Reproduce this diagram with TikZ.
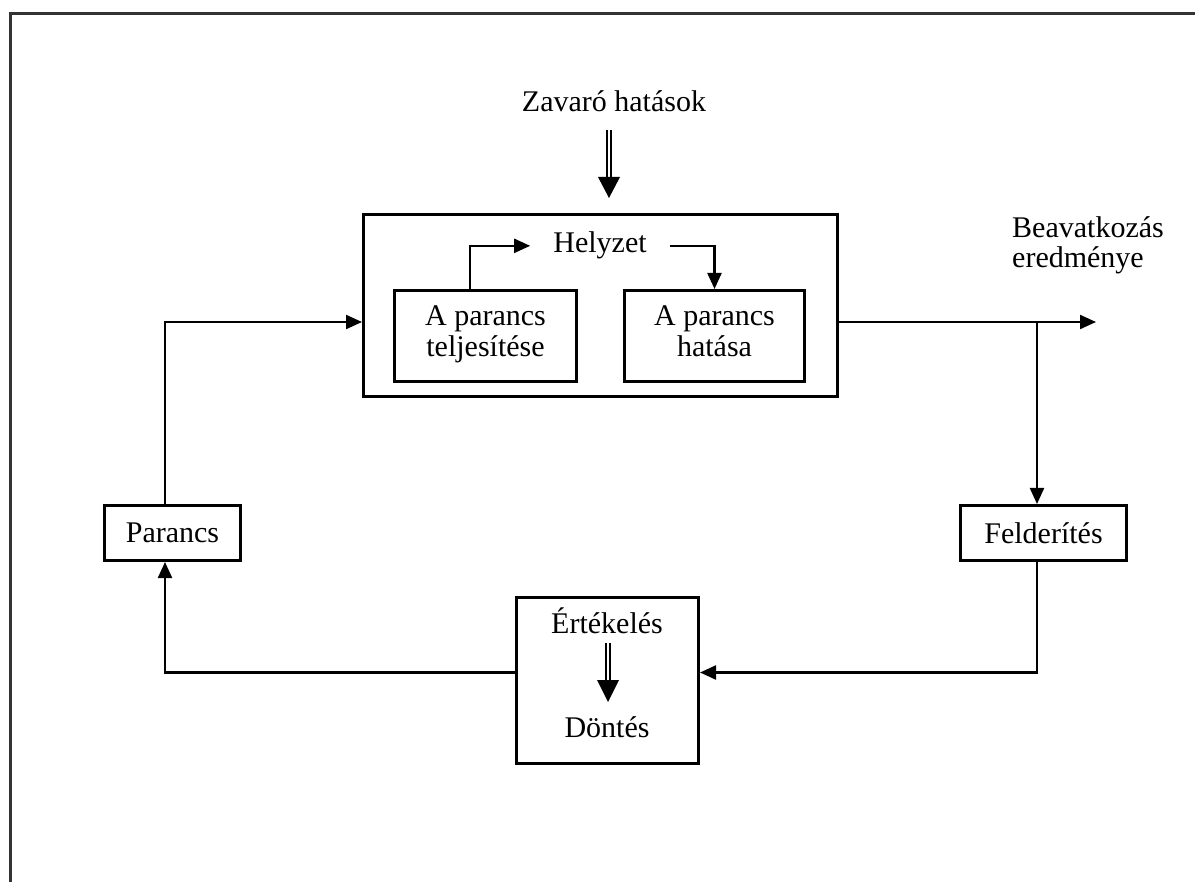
\documentclass[tikz,border=0pt]{standalone}
\usepackage{fontspec}
\setmainfont{Liberation Serif}
\usetikzlibrary{arrows.meta}
\begin{document}
\begin{tikzpicture}[x=1pt,y=-1pt,
  every node/.style={font=\fontsize{30}{31}\selectfont},
  box/.style={draw, line width=3pt, inner sep=0pt, align=center},
  lbl/.style={inner sep=0pt, align=center},
  arr/.style={line width=2.2pt, -{Triangle[length=16pt,width=14pt]}},
  dbl/.style={line width=1.6pt, double, double distance=2.5pt},
  frame/.style={line width=3pt, black!80}]
\useasboundingbox (0,0) rectangle (1195,882);
\draw[frame] (10,882) -- (10,14) -- (1195,14);

% nodes
\node[lbl, anchor=base] (zavar) at (614,112) {Zavaró hatások};
\node[box, minimum width=474pt, minimum height=182pt] (helyzet) at (600.5,305.5) {};
\node[lbl, anchor=base, inner xsep=23pt] (helyzetT) at (600,253) {Helyzet};
\node[box, minimum width=182pt, minimum height=91pt] (teljes) at (485.5,336) {A parancs\\teljesítése\strut};
\node[box, minimum width=180pt, minimum height=91pt] (hatasa) at (714.5,336) {A parancs\\hatása\strut};
\node[box, minimum width=136pt, minimum height=55pt] (parancs) at (172.5,533) {Parancs};
\node[box, minimum width=166pt, minimum height=55pt] (felder) at (1043.5,533) {Felderítés};
\node[box, minimum width=182pt, minimum height=166pt] (ertek) at (607.5,680.5) {};
\node[lbl, anchor=base] (ertekT) at (607,633) {Értékelés};
\node[lbl, anchor=base] (dontes) at (607,737) {Döntés};
\node[lbl, anchor=north west, align=left] (beav) at (1012,216.5) {Beavatkozás\\[-1pt]eredménye};

% helper coordinates
\coordinate (inY) at (0,322);
\coordinate (outEnd) at (1096,322);
\coordinate (br) at (1037,322);
\coordinate (fbY) at (0,672.5);
\coordinate (lx) at (165,0);
\coordinate (a1) at (470,0);
\coordinate (zTip) at (609,198);
\coordinate (eTip) at (608,702);

% connectors
\draw[arr] (lx |- parancs.north) |- (helyzet.west |- inY);
\draw[arr] (helyzet.east |- inY) -- (outEnd);
\draw[arr] (br) -- (br |- felder.north);
\draw[arr] (br |- felder.south) |- (ertek.east |- fbY);
\draw[arr] (ertek.west |- fbY) -| (lx |- parancs.south);
\draw[arr] (a1 |- teljes.north) |- (helyzetT.west);
\draw[arr] (helyzetT.east) -| (hatasa.north);

% double arrows
\draw[dbl] ([yshift=-18pt]zTip |- zavar.south) -- ([yshift=18pt]zTip);
\fill ([xshift=-11pt,yshift=21pt]zTip) -- ([xshift=11pt,yshift=21pt]zTip) -- (zTip) -- cycle;
\draw[dbl] ([yshift=-10pt]eTip |- ertekT.south) -- ([yshift=19pt]eTip);
\fill ([xshift=-11pt,yshift=22pt]eTip) -- ([xshift=11pt,yshift=22pt]eTip) -- (eTip) -- cycle;
\end{tikzpicture}
\end{document}
